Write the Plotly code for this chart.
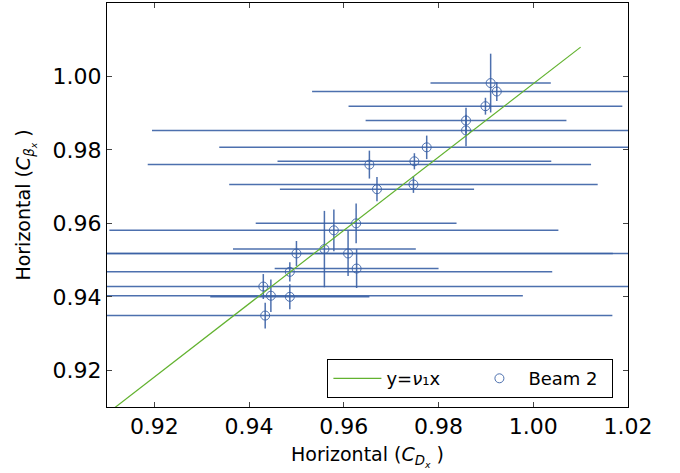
import plotly.graph_objects as go

# Beam 2 measurements
cd_x = [0.9910, 0.9923, 0.9899, 0.9858, 0.9858, 0.9775, 0.9749, 0.9654, 0.9747, 0.9670,
        0.9626, 0.9579, 0.9559, 0.9609, 0.9500, 0.9627, 0.9486, 0.9430, 0.9446, 0.9486, 0.9434]
cb_x = [0.9982, 0.9959, 0.9919, 0.9880, 0.9853, 0.9807, 0.9769, 0.9760, 0.9706, 0.9693,
        0.9600, 0.9581, 0.9530, 0.9518, 0.9518, 0.9477, 0.9468, 0.9428, 0.9403, 0.9400, 0.9349]
cd_err = [0.0127, 0.0390, 0.0289, 0.0212, 0.0663, 0.0438, 0.0289, 0.0468, 0.0389, 0.0205,
          0.0212, 0.0474, 0.0193, 0.0700, 0.0668, 0.0173, 0.0554, 0.0800, 0.0532, 0.0168, 0.0733]
cb_err = [0.0080, 0.0026, 0.0023, 0.0035, 0.0043, 0.0032, 0.0022, 0.0038, 0.0023, 0.0033,
          0.0054, 0.0057, 0.0104, 0.0061, 0.0034, 0.0053, 0.0026, 0.0034, 0.0044, 0.0034, 0.0035]

# fitted line y = nu1 * x
nu1 = 0.998
fit_x = [0.91, 1.01]
fit_y = [nu1 * v for v in fit_x]

tick_vals = [0.92, 0.94, 0.96, 0.98, 1.00, 1.02]
tick_text = ["0.92", "0.94", "0.96", "0.98", "1.00", "1.02"]

blue = "rgba(58,96,165,0.9)"
green = "#62b22f"

fig = go.Figure()
fig.add_trace(go.Scatter(
    x=cd_x, y=cb_x, mode="markers", name="Beam 2", legendrank=2,
    marker=dict(symbol="circle-open", size=9, color=blue, line=dict(width=1, color=blue)),
    error_x=dict(type="data", array=cd_err, color=blue, thickness=1.5, width=0),
    error_y=dict(type="data", array=cb_err, color=blue, thickness=1.5, width=0),
))
fig.add_trace(go.Scatter(
    x=fit_x, y=fit_y, mode="lines", name="y=<i>ν</i>₁x", legendrank=1,
    line=dict(color=green, width=1.2),
))

axis_common = dict(
    showline=True, linecolor="black", linewidth=1, mirror="ticks",
    ticks="inside", ticklen=5, tickcolor="#444", tickwidth=1,
    showgrid=False, zeroline=False,
    tickfont=dict(size=22, color="black"),
    range=[0.91, 1.02], tickvals=tick_vals, ticktext=tick_text,
)

fig.update_layout(
    width=680, height=473,
    margin=dict(l=107, r=52, t=3, b=66),
    paper_bgcolor="white", plot_bgcolor="white",
    font=dict(family="DejaVu Sans", color="black"),
    xaxis=dict(**axis_common,
               title=dict(text="Horizontal (<i>C</i><sub><i>D</i><sub><i>x</i></sub></sub> )",
                          font=dict(size=19), standoff=9)),
    yaxis=dict(**axis_common,
               title=dict(text="Horizontal (<i>C</i><sub><i>β</i><sub><i>x</i></sub></sub> )",
                          font=dict(size=19), standoff=16)),
    legend=dict(
        orientation="h", x=0.972, y=0.022, xanchor="right", yanchor="bottom",
        bordercolor="black", borderwidth=1, bgcolor="white",
        font=dict(size=18), entrywidth=79, itemwidth=48,
    ),
    showlegend=True,
)

fig.write_html("out.html")
